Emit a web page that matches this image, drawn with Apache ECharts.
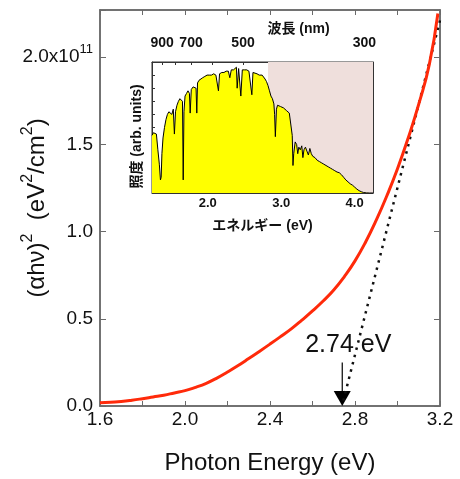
<!DOCTYPE html>
<html>
<head>
<meta charset="utf-8">
<script src="https://cdn.jsdelivr.net/npm/echarts@6/dist/echarts.min.js"></script>
<style>
  html, body { margin: 0; background: #fff; }
  #chart { width: 460px; height: 479px; }
</style>
</head>
<body>
<div id="chart"></div>
<script>
// (αhν)^2 vs photon energy, values in units of 1e11 eV^2/cm^2
const photonEnergy = [1.60, 1.65, 1.70, 1.75, 1.80, 1.85, 1.90, 1.95, 2.00, 2.05, 2.10, 2.15, 2.20, 2.25,
  2.30, 2.35, 2.40, 2.45, 2.50, 2.55, 2.60, 2.65, 2.70, 2.75, 2.80, 2.85, 2.90, 2.95, 3.00, 3.05,
  3.10, 3.15, 3.19];
const alphaHv2 = [0.018, 0.022, 0.026, 0.033, 0.042, 0.052, 0.062, 0.075, 0.088, 0.107, 0.130, 0.160,
  0.195, 0.232, 0.272, 0.313, 0.355, 0.398, 0.442, 0.492, 0.545, 0.602, 0.665, 0.742, 0.832, 0.940,
  1.065, 1.205, 1.360, 1.535, 1.730, 1.960, 2.250];

// linear extrapolation (dotted) and the gap it gives
const bandGap = 2.74;
const tangentEnergy = [2.745, 3.20];
const tangentValue = [0.03, 2.21];
const arrowTop = 0.25;

const yTicks = [0, 0.5, 1.0, 1.5, 2.0];

// inset: solar spectrum (arb. units) vs energy
const specEnergy = [1.24, 1.26, 1.28, 1.30, 1.32, 1.34, 1.355, 1.365, 1.375, 1.39, 1.41, 1.43, 1.45, 1.47,
  1.49, 1.51, 1.53, 1.545, 1.56, 1.58, 1.60, 1.62, 1.64, 1.655, 1.665, 1.675, 1.69, 1.71, 1.73, 1.75,
  1.76, 1.775, 1.80, 1.82, 1.84, 1.85, 1.86, 1.88, 1.90, 1.93, 1.96, 1.99, 2.02, 2.05, 2.08, 2.11,
  2.13, 2.145, 2.16, 2.19, 2.22, 2.25, 2.28, 2.30, 2.32, 2.35, 2.37, 2.39, 2.40, 2.42, 2.44, 2.45,
  2.47, 2.50, 2.53, 2.56, 2.585, 2.60, 2.615, 2.64, 2.67, 2.70, 2.72, 2.74, 2.76, 2.78, 2.80, 2.82,
  2.84, 2.86, 2.88, 2.90, 2.91, 2.92, 2.935, 2.95, 2.97, 2.99, 3.01, 3.03, 3.05, 3.07, 3.09, 3.11,
  3.13, 3.15, 3.16, 3.17, 3.19, 3.21, 3.225, 3.24, 3.26, 3.28, 3.295, 3.31, 3.33, 3.35, 3.37, 3.39,
  3.41, 3.43, 3.46, 3.49, 3.52, 3.55, 3.58, 3.61, 3.64, 3.67, 3.70, 3.73, 3.76, 3.79, 3.82, 3.85,
  3.88, 3.91, 3.94, 3.97, 4.00, 4.03, 4.06, 4.09, 4.12, 4.16, 4.20, 4.25];
const specIrr = [0.44, 0.46, 0.47, 0.45, 0.33, 0.22, 0.10, 0.12, 0.30, 0.42, 0.50, 0.56, 0.60, 0.62,
  0.63, 0.60, 0.64, 0.45, 0.62, 0.67, 0.70, 0.72, 0.72, 0.70, 0.10, 0.62, 0.74, 0.76, 0.78, 0.76,
  0.61, 0.79, 0.81, 0.82, 0.80, 0.61, 0.84, 0.86, 0.87, 0.88, 0.89, 0.90, 0.90, 0.90, 0.91, 0.90,
  0.91, 0.78, 0.91, 0.92, 0.92, 0.93, 0.93, 0.88, 0.94, 0.94, 0.95, 0.96, 0.80, 0.95, 0.94, 0.74,
  0.94, 0.94, 0.94, 0.93, 0.92, 0.75, 0.92, 0.92, 0.91, 0.90, 0.91, 0.90, 0.89, 0.87, 0.85, 0.82,
  0.78, 0.74, 0.72, 0.68, 0.60, 0.43, 0.64, 0.67, 0.66, 0.66, 0.65, 0.65, 0.64, 0.63, 0.62, 0.61,
  0.60, 0.44, 0.21, 0.30, 0.39, 0.37, 0.30, 0.35, 0.33, 0.36, 0.27, 0.33, 0.35, 0.32, 0.29, 0.34,
  0.30, 0.28, 0.27, 0.25, 0.24, 0.23, 0.22, 0.21, 0.20, 0.19, 0.18, 0.17, 0.16, 0.155, 0.14, 0.12,
  0.10, 0.085, 0.07, 0.06, 0.045, 0.03, 0.018, 0.01, 0.004, 0.001, 0.0, 0.0];

const wavelengthLabels = [900, 700, 500, 300];   // nm, top axis of inset
const wavelengthTicks = [900, 800, 700, 600, 500, 400, 300];
const insetLabelTicks = [2.0, 3.0, 4.0];
const insetMinorTicks = [1.5, 2.0, 2.5, 3.0, 3.5, 4.0];
const uvEdge = 2.82;   // shaded region starts here

const chart = echarts.init(document.getElementById('chart'));

const FONT = '"Liberation Sans", Arial, sans-serif';
const JP = '"Liberation Sans", "Noto Sans CJK JP", sans-serif';
const frameColor = '#6a6a6a';

const mainLine = { show: true, onZero: false, lineStyle: { color: frameColor, width: 1.5 } };
const insetLine = { show: true, onZero: false, lineStyle: { color: '#333', width: 1 } };

const option = {
  animation: false,
  backgroundColor: '#fff',
  grid: [
    {
      left: 100, right: 20, top: 10, bottom: 73, containLabel: false, outerBoundsMode: 'none',
      show: true, borderColor: frameColor, borderWidth: 1.5, backgroundColor: 'transparent'
    },
    {
      left: 152, top: 62, width: 221, height: 131, containLabel: false, outerBoundsMode: 'none',
      show: true, backgroundColor: '#fff', borderColor: '#333', borderWidth: 1
    }
  ],
  xAxis: [
    {
      gridIndex: 0, type: 'value', min: 1.6, max: 3.2, interval: 0.4,
      name: 'Photon Energy (eV)', nameLocation: 'middle', nameGap: 45, nameMoveOverlap: false,
      nameTextStyle: { fontFamily: FONT, fontSize: 24, color: '#111' },
      axisLine: mainLine,
      axisTick: { inside: true, length: 5, lineStyle: { color: frameColor } },
      minorTick: { show: true, splitNumber: 2, length: 5, lineStyle: { color: frameColor } },
      axisLabel: { fontFamily: FONT, fontSize: 19, color: '#111', margin: 4, formatter: v => v.toFixed(1) },
      splitLine: { show: false }
    },
    {
      gridIndex: 0, type: 'value', position: 'top', min: 1.6, max: 3.2, interval: 0.2,
      axisLine: mainLine,
      axisTick: { inside: true, length: 5, lineStyle: { color: frameColor } },
      axisLabel: { show: false }, splitLine: { show: false }
    },
    {
      gridIndex: 1, type: 'value', min: 1.24, max: 4.25,
      name: 'エネルギー (eV)', nameLocation: 'middle', nameGap: 26, nameMoveOverlap: false,
      nameTextStyle: { fontFamily: JP, fontSize: 14, fontWeight: 'bold', color: '#111' },
      axisLine: insetLine,
      axisTick: { inside: true, length: 3, customValues: insetMinorTicks, lineStyle: { color: '#333' } },
      axisLabel: {
        fontFamily: FONT, fontSize: 13, fontWeight: 'bold', color: '#111', margin: 4,
        customValues: insetLabelTicks, formatter: v => v.toFixed(1)
      },
      splitLine: { show: false }
    },
    {
      gridIndex: 1, type: 'value', position: 'top', min: 1.24, max: 4.25,
      name: '波長 (nm)', nameLocation: 'middle', nameGap: 26, nameMoveOverlap: false,
      nameTextStyle: { fontFamily: JP, fontSize: 14, fontWeight: 'bold', color: '#111', padding: [0, 0, 0, 72] },
      axisLine: insetLine,
      axisTick: { inside: true, length: 3, customValues: wavelengthTicks.map(w => 1240 / w), lineStyle: { color: '#333' } },
      axisLabel: {
        fontFamily: FONT, fontSize: 14, fontWeight: 'bold', color: '#111', margin: 12,
        customValues: wavelengthLabels.map(w => 1240 / w),
        formatter: v => String(Math.round(1240 / v / 100) * 100)
      },
      splitLine: { show: false }
    }
  ],
  yAxis: [
    {
      gridIndex: 0, type: 'value', min: 0, max: 2.27, interval: 0.5,
      name: '(αhν){sup|2}  (eV{sup|2}/cm{sup|2})', nameLocation: 'middle', nameGap: 46, nameRotate: 90,
      nameMoveOverlap: false,
      nameTextStyle: {
        fontFamily: FONT, fontSize: 24, color: '#111', lineHeight: 34,
        rich: { sup: { fontFamily: FONT, fontSize: 16, lineHeight: 16, verticalAlign: 'top', color: '#111' } }
      },
      axisLine: mainLine,
      axisTick: { inside: true, length: 6, lineStyle: { color: frameColor } },
      axisLabel: {
        fontFamily: FONT, fontSize: 19, color: '#111', margin: 7, lineHeight: 28,
        customValues: yTicks,
        formatter: v => (v === yTicks[yTicks.length - 1] ? v.toFixed(1) + 'x10{sup|11}' : v.toFixed(1)),
        rich: { sup: { fontFamily: FONT, fontSize: 13, lineHeight: 13, verticalAlign: 'top', color: '#111' } }
      },
      splitLine: { show: false }
    },
    {
      gridIndex: 0, type: 'value', position: 'right', min: 0, max: 2.27, interval: 0.5,
      axisLine: mainLine,
      axisTick: { inside: true, length: 6, lineStyle: { color: frameColor } },
      axisLabel: { show: false }, splitLine: { show: false }
    },
    {
      gridIndex: 1, type: 'value', min: 0, max: 1.0, interval: 0.1,
      name: '照度 (arb. units)', nameLocation: 'middle', nameGap: 8, nameRotate: 90, nameMoveOverlap: false,
      nameTextStyle: { fontFamily: JP, fontSize: 14, fontWeight: 'bold', color: '#111', padding: [0, 18, 0, 0] },
      axisLine: insetLine,
      axisTick: { inside: true, length: 3, lineStyle: { color: '#333' } },
      axisLabel: { show: false }, splitLine: { show: false }
    },
    {
      gridIndex: 1, type: 'value', position: 'right', min: 0, max: 1.0,
      axisLine: insetLine, axisTick: { show: false }, axisLabel: { show: false }, splitLine: { show: false }
    }
  ],
  series: [
    {
      type: 'line', xAxisIndex: 2, yAxisIndex: 2,
      data: specEnergy.map((e, i) => [e, specIrr[i]]),
      showSymbol: false, lineStyle: { color: '#000', width: 1 },
      areaStyle: { color: '#ffff00', opacity: 1 },
      markArea: {
        silent: true,
        itemStyle: { color: '#efdfdc' },
        data: [[{ xAxis: uvEdge }, { xAxis: 4.25 }]]
      },
      z: 3
    },
    // empty series so the mirror axes (top / right) are laid out
    { type: 'line', xAxisIndex: 1, yAxisIndex: 1, data: [], silent: true },
    { type: 'line', xAxisIndex: 3, yAxisIndex: 3, data: [], silent: true },
    {
      type: 'line', xAxisIndex: 0, yAxisIndex: 0,
      data: tangentEnergy.map((e, i) => [e, tangentValue[i]]),
      showSymbol: false, lineStyle: { color: '#111', width: 2.5, type: [2.5, 5] }
    },
    {
      type: 'line', xAxisIndex: 0, yAxisIndex: 0,
      data: photonEnergy.map((e, i) => [e, alphaHv2[i]]),
      smooth: true, showSymbol: false, lineStyle: { color: '#ff2a0a', width: 3 }
    },
    {
      type: 'line', xAxisIndex: 0, yAxisIndex: 0,
      data: [[bandGap, arrowTop], [bandGap, 0.06]],
      showSymbol: false, lineStyle: { color: '#000', width: 1.2 }
    },
    {
      type: 'scatter', xAxisIndex: 0, yAxisIndex: 0,
      data: [[bandGap, 0]],
      symbol: 'path://M0,0L10,0L5,10Z', symbolSize: [17, 15], symbolOffset: [0, '-50%'],
      itemStyle: { color: '#000', opacity: 1 },
      label: {
        show: true, formatter: bandGap.toFixed(2) + ' eV', position: 'top', distance: 33, offset: [6, 0],
        fontFamily: FONT, fontSize: 25, color: '#111'
      }
    }
  ]
};

chart.setOption(option);
</script>
</body>
</html>
